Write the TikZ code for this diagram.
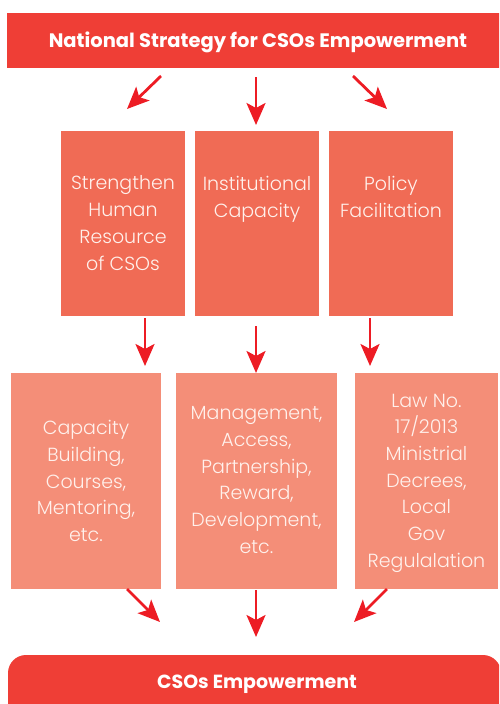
\documentclass[tikz,border=0pt]{standalone}
\usepackage{fontspec}
\setmainfont{Poppins}
\newfontfamily\lightf{Poppins Light}
\usetikzlibrary{arrows.meta}
\definecolor{topred}{HTML}{EF3E36}
\definecolor{midbox}{HTML}{F06B55}
\definecolor{lowbox}{HTML}{F48E78}
\definecolor{arrred}{HTML}{ED1C24}
\definecolor{boxtext}{HTML}{FFF1EC}
\begin{document}
\begin{tikzpicture}[x=1pt,y=-1pt,
  bar/.style={fill=topred,draw=none,inner sep=0pt,anchor=north west},
  bartext/.style={text=white,font=\bfseries\fontsize{19}{22}\selectfont},
  midbox/.style={fill=midbox,draw=none,inner sep=0pt,anchor=north west,minimum width=124pt,minimum height=185pt},
  lowbox/.style={fill=lowbox,draw=none,inner sep=0pt,anchor=north west,minimum height=216pt},
  boxtext/.style={text=boxtext,align=center,inner sep=0pt,font=\lightf\fontsize{19}{26.7}\selectfont},
  arr/.style={draw=arrred,line width=2.8pt,-{Stealth[length=22pt,width=19pt,inset=5pt]}}]
\useasboundingbox (0,0) rectangle (499,704);
\clip (0,0) rectangle (499,704);
% top bar
\node[bar,minimum width=503pt,minimum height=55pt] (top) at (7,13) {};
\node[bartext,font=\bfseries\fontsize{19.5}{22}\selectfont] (toptext) at (258,42.5) {National Strategy for CSOs Empowerment};
% middle boxes
\node[midbox] (m1) at (61,131) {};
\node[midbox] (m2) at (195,131) {};
\node[midbox] (m3) at (329,131) {};
\node[boxtext] (m1t) at (123,223) {Strengthen\\Human\\Resource\\of CSOs};
\node[boxtext] (m2t) at (257,199) {Institutional\\Capacity};
\node[boxtext] (m3t) at (391,197) {Policy\\Facilitation};
% lower boxes
\node[lowbox,minimum width=150pt] (l1) at (11,373) {};
\node[lowbox,minimum width=161pt] (l2) at (176,373) {};
\node[lowbox,minimum width=143pt] (l3) at (355,373) {};
\node[boxtext] (l1t) at (86,481) {Capacity\\Building,\\Courses,\\Mentoring,\\etc.};
\node[boxtext] (l2t) at (256.5,480) {Management,\\Access,\\Partnership,\\Reward,\\Development,\\etc.};
\node[boxtext] (l3t) at (426.5,483) {Law No.\\17/2013\\Ministrial\\Decrees,\\Local\\Gov\\Regulalation};
% bottom bar
\fill[topred,rounded corners=18pt] (8,655) rectangle (501,725);
\node[bartext] (bottext) at (257,684) {CSOs Empowerment};
% arrow end points
\coordinate (a1s) at (161,76);  \coordinate (a1e) at (127,109);
\coordinate (a2s) at (256,77);  \coordinate (a2e) at (256,125);
\coordinate (a3s) at (353,76);  \coordinate (a3e) at (387,109);
\coordinate (b1s) at (145,318); \coordinate (b1e) at (145,366);
\coordinate (b2s) at (256,326); \coordinate (b2e) at (256,373);
\coordinate (b3s) at (370,318); \coordinate (b3e) at (370,366);
\coordinate (c1s) at (127,589); \coordinate (c1e) at (160,622);
\coordinate (c2s) at (256,590); \coordinate (c2e) at (256,637);
\coordinate (c3s) at (387,589); \coordinate (c3e) at (354,622);
\foreach \p in {a1,a2,a3,b1,b2,b3,c1,c2,c3}{\draw[arr] (\p s) -- (\p e);}
\end{tikzpicture}
\end{document}
